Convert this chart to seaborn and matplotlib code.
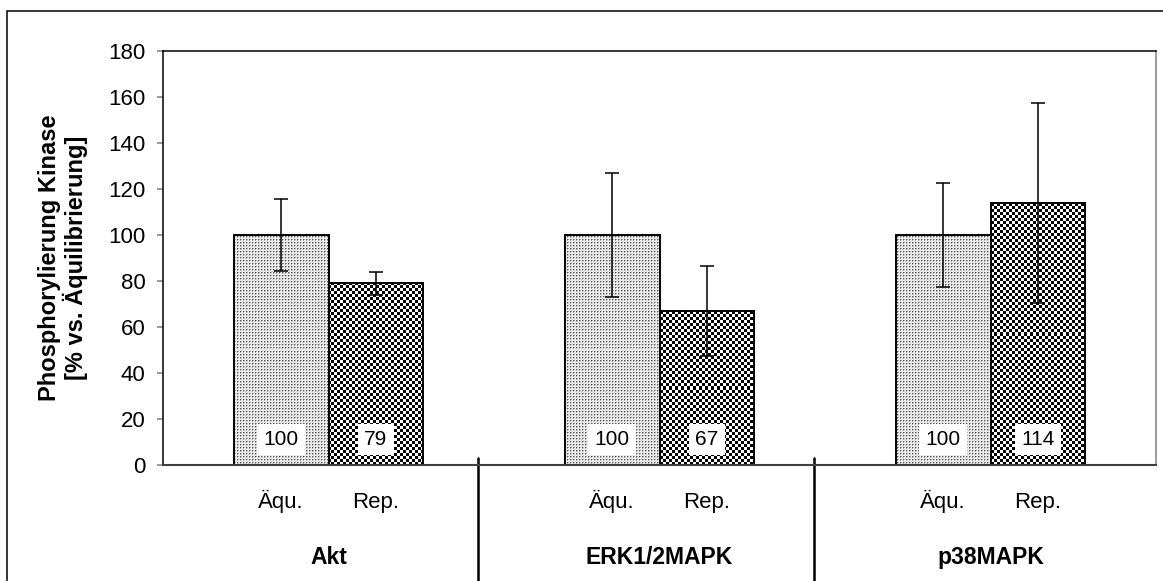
import numpy as np
import pandas as pd
import matplotlib
matplotlib.use("Agg")
import matplotlib.pyplot as plt
from matplotlib.patches import Rectangle
from matplotlib.lines import Line2D
import seaborn as sns

# Kinase phosphorylation after equilibration (Äqu.) vs. repetition (Rep.)
kinases = ["Akt", "ERK1/2MAPK", "p38MAPK"]
conditions = ["Äqu.", "Rep."]
aequ_values = [100, 100, 100]
rep_values = [79, 67, 114]
aequ_sd = [15.5, 27, 22.5]
rep_sd = [5, 19.5, 43.5]
y_ticks = [0, 20, 40, 60, 80, 100, 120, 140, 160, 180]
y_label = "Phosphorylierung Kinase\n[% vs. Äquilibrierung]"

df = pd.DataFrame({
    "Kinase": kinases * 2,
    "Bedingung": [conditions[0]] * 3 + [conditions[1]] * 3,
    "Wert": aequ_values + rep_values,
    "SD": aequ_sd + rep_sd,
})

sns.set_theme(style="white")
plt.rcParams["font.family"] = ["Liberation Sans", "DejaVu Sans"]

W, H = 1163, 581
fig = plt.figure(figsize=(W / 100, H / 100), dpi=100)
ax = fig.add_axes([163 / W, 1 - 465 / H, (1156 - 163) / W, (465 - 51) / H])

sns.barplot(data=df, x="Kinase", y="Wert", hue="Bedingung", order=kinases,
            hue_order=conditions, width=0.574, gap=0, errorbar=None,
            palette=["#ffffff", "#ffffff"], legend=False, ax=ax)

ax.set_xlim(-0.5, 2.5)
ax.set_ylim(0, 180)


def light_dots(px, py):
    v = np.full(px.shape, 0.92)
    v[(px % 3 == 0) & (py % 3 == 0)] = 0.35
    v[((px % 3 == 1) & (py % 3 == 0)) | ((px % 3 == 0) & (py % 3 == 1))] = 0.68
    return v


def checker(px, py):
    return np.where(((px // 3) + (py // 3)) % 2 == 0, 0.0, 1.0)


textures = [light_dots, checker]
sds = [aequ_sd, rep_sd]
vals = [aequ_values, rep_values]
tick_pos, tick_lab = [], []
bar_containers = list(ax.containers)

for k, cont in enumerate(bar_containers):
    for j, bar in enumerate(cont.patches):
        bx, bw, bh = bar.get_x(), bar.get_width(), bar.get_height()
        (x0, y0), (x1, y1) = ax.transData.transform([[bx, 0], [bx + bw, bh]])
        nx, ny = max(int(round(x1 - x0)), 1), max(int(round(y1 - y0)), 1)
        px, py = np.meshgrid(np.arange(nx) + int(round(x0)),
                             np.arange(ny) + int(round(H - y1)))
        ax.imshow(textures[k](px, py), cmap="gray", vmin=0, vmax=1,
                  extent=(bx, bx + bw, 0, bh), interpolation="nearest",
                  aspect="auto", zorder=1.5)
        bar.set_facecolor("none")
        bar.set_edgecolor("black")
        bar.set_linewidth(1.4)
        bar.set_zorder(2)
        xc = bx + bw / 2
        ax.errorbar(xc, bh, yerr=sds[k][j], fmt="none", ecolor="black",
                    elinewidth=1.1, capsize=5, capthick=1.1, zorder=4)
        ax.text(xc, 11, f"{vals[k][j]:g}", ha="center", va="center",
                fontsize=15, color="black", zorder=5,
                bbox=dict(boxstyle="square,pad=0.3", fc="white", ec="none"))
        tick_pos.append(xc)
        tick_lab.append(conditions[k])

ax.set_xlim(-0.5, 2.5)
ax.set_ylim(0, 180)

order = np.argsort(tick_pos)
ax.set_xticks([tick_pos[i] for i in order])
ax.set_xticklabels([tick_lab[i] for i in order], fontsize=16)
ax.tick_params(axis="x", length=0, pad=31, colors="black")
for lab in ax.get_xticklabels():
    lab.set_verticalalignment("baseline")
ax.set_yticks(y_ticks)
ax.tick_params(axis="y", direction="out", length=4.5, width=1.1,
               color="#808080", pad=8, labelsize=16, labelcolor="black", left=True)
ax.set_xlabel("")
ax.set_ylabel(y_label, fontsize=17, fontweight="bold", color="black",
              linespacing=1.05, va="center")
ax.yaxis.set_label_coords(-0.1007, 0.5)

for side, col, lw in [("left", "black", 1.1), ("top", "black", 1.1),
                      ("right", "#808080", 1.1), ("bottom", "#404040", 1.5)]:
    ax.spines[side].set_visible(True)
    ax.spines[side].set_color(col)
    ax.spines[side].set_linewidth(lw)

# group names and separators of the two-level category axis
blend = ax.get_xaxis_transform()
for i, name in enumerate(kinases):
    ax.text(i, -0.2246, name, transform=blend, ha="center", va="center",
            fontsize=16.5, fontweight="bold", color="black")
for sep in [0.4517, 1.467]:
    ax.add_line(Line2D([sep, sep], [0.017, -0.35], transform=blend,
                       color="black", lw=1.8, clip_on=False))

fig.add_artist(Rectangle((7 / W, -0.05), 1.1, (1 - 11 / H) + 0.05,
                         transform=fig.transFigure, fill=False,
                         edgecolor="black", lw=1.1, clip_on=False))

fig.savefig("out.png", dpi=100)
